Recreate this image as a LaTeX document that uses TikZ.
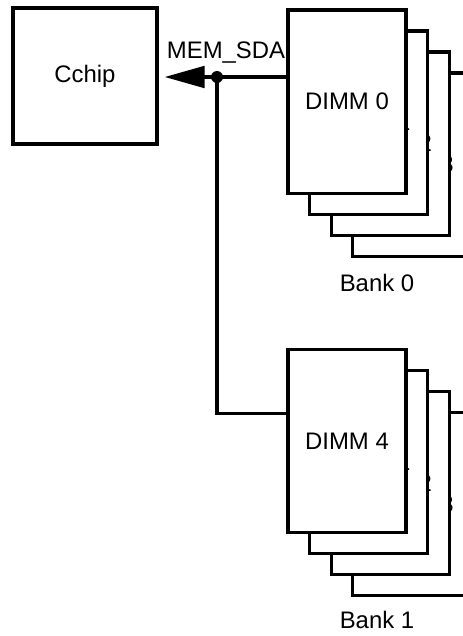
\documentclass[tikz,border=0pt]{standalone}
\usepackage{fontspec}
\setmainfont{Liberation Sans}
\usetikzlibrary{arrows.meta,positioning}

\begin{document}
\begin{tikzpicture}[
    line width=2.4pt,
    chip/.style={rectangle, draw, fill=white, minimum width=3.6cm, minimum height=3.4cm, font=\fontsize{17}{20}\selectfont},
    dimm/.style={rectangle, draw, fill=white, minimum width=2.95cm, minimum height=4.58cm, font=\fontsize{17}{20}\selectfont},
    lbl/.style={font=\fontsize{17}{20}\selectfont, inner sep=0pt},
    dot/.style={circle, fill, inner sep=0pt, minimum size=0.3cm},
    arrow/.style={-{Triangle[length=1cm, width=0.54cm]}}
]
    \useasboundingbox (0,0) rectangle (11.575,-15.9);
    \clip (0,0) rectangle (11.575,-15.9);

    \node [chip] (cchip) at (2.125,-1.9) {Cchip};

    % Bank 0, back to front
    \coordinate (bank0) at (8.675,-2.54);
    \node [dimm] (dimm3) at ([shift={(1.62,-1.575)}]bank0) {DIMM 3};
    \node [dimm] (dimm2) at ([shift={(1.08,-1.05)}]bank0) {DIMM 2};
    \node [dimm] (dimm1) at ([shift={(0.54,-0.525)}]bank0) {DIMM 1};
    \node [dimm] (dimm0) at (bank0) {DIMM 0};
    \node [lbl] (bank0lbl) at (9.425,-7.08) {Bank 0};

    % Bank 1, back to front (same stack, copied)
    \coordinate (bank1) at (8.675,-11.03);
    \node [dimm] (dimm7) at ([shift={(1.62,-1.575)}]bank1) {DIMM 3};
    \node [dimm] (dimm6) at ([shift={(1.08,-1.05)}]bank1) {DIMM 2};
    \node [dimm] (dimm5) at ([shift={(0.54,-0.525)}]bank1) {DIMM 1};
    \node [dimm] (dimm4) at (bank1) {DIMM 4};
    \node [lbl] (bank1lbl) at (9.425,-15.5) {Bank 1};

    % serial bus
    \node [dot] (tap) at (5.425,-1.925) {};
    \draw [arrow, shorten >=0.15cm] (tap.center -| dimm0.west) -- (tap.center -| cchip.east);
    \draw (tap.center) |- ([yshift=0.7cm]dimm4.west);
    \node [lbl, anchor=base east] (sda) at (7.17,-1.45) {MEM\_SDA};
\end{tikzpicture}
\end{document}
